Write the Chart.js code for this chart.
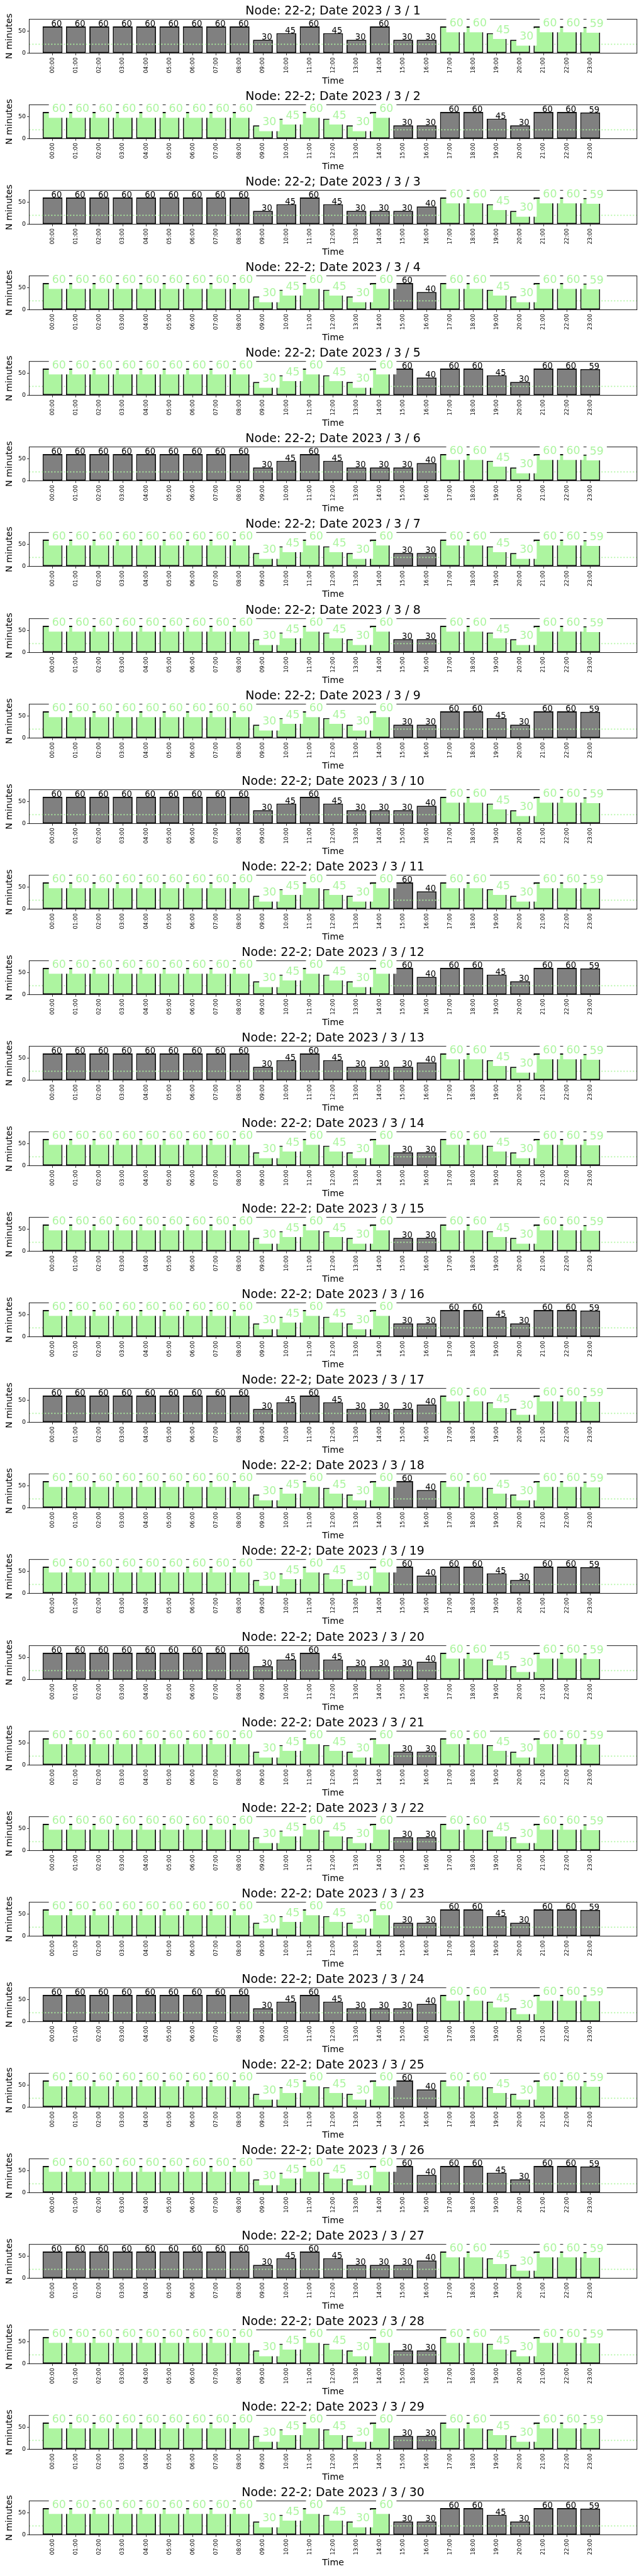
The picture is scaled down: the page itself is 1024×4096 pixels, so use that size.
<!DOCTYPE html>
<html>
<head>
<meta charset="utf-8">
<title>Node 22-2, minutes per hour, March 2023</title>
<script src="https://cdn.jsdelivr.net/npm/chart.js"></script>
<style>
  body { margin: 0; background: #fff; }
  #page { position: relative; width: 1024px; height: 4096px; }
  .panel { position: absolute; left: 0; width: 1024px; height: 137px; }
</style>
</head>
<body>
<div id="page"></div>
<script>
// x axis slots
const hours = ["00:00","01:00","02:00","03:00","04:00","05:00","06:00","07:00",
               "08:00","09:00","10:00","11:00","12:00","13:00","14:00","15:00",
               "16:00","17:00","18:00","19:00","20:00","21:00","22:00","23:00"];
const yTicks = [0, 50];
const yMax = 76;
const threshold = 20;
const node = "22-2";

// minutes per hour, three profiles that repeat through the month
const minutesA = [60,60,60,60,60,60,60,60,60,30,45,60,45,30,60,30,30,60,60,45,30,60,60,59];
const minutesB = [60,60,60,60,60,60,60,60,60,30,45,60,45,30,30,30,40,60,60,45,30,60,60,59];
const minutesC = [60,60,60,60,60,60,60,60,60,30,45,60,45,30,60,60,40,60,60,45,30,60,60,59];

// hours drawn in green (1) instead of grey (0)
const hlEvening = [0,0,0,0,0,0,0,0,0,0,0,0,0,0,0,0,0,1,1,1,1,1,1,1];
const hlDaytime = [1,1,1,1,1,1,1,1,1,1,1,1,1,1,1,0,0,0,0,0,0,0,0,0];
const hlBoth    = [1,1,1,1,1,1,1,1,1,1,1,1,1,1,1,0,0,1,1,1,1,1,1,1];

const dates = [1,2,3,4,5,6,7,8,9,10,11,12,13,14,15,16,17,18,19,20,21,22,23,24,25,26,27,28,29,30];
const dayMinutes = [
  minutesA, minutesA, minutesB, minutesC, minutesC, minutesB, minutesA, minutesA, minutesA, minutesB,
  minutesC, minutesC, minutesB, minutesA, minutesA, minutesA, minutesB, minutesC, minutesC, minutesB,
  minutesA, minutesA, minutesA, minutesB, minutesC, minutesC, minutesB, minutesA, minutesA, minutesA
];
const dayHighlight = [
  hlEvening, hlDaytime, hlEvening, hlBoth, hlDaytime, hlEvening, hlBoth, hlBoth, hlDaytime, hlEvening,
  hlBoth, hlDaytime, hlEvening, hlBoth, hlBoth, hlDaytime, hlEvening, hlBoth, hlDaytime, hlEvening,
  hlBoth, hlBoth, hlDaytime, hlEvening, hlBoth, hlDaytime, hlEvening, hlBoth, hlBoth, hlDaytime
];

const FONT = "DejaVu Sans";
const GRAY = "#808080";
const GREEN = "#adf5a0";
const EDGE = "#111111";
const PANEL_STEP = 136.08;

Chart.defaults.font.family = FONT;
Chart.defaults.color = "#000";

// box round the axes and the dotted threshold line (over grey bars, under green ones)
const frame = {
  id: "frame",
  afterDatasetDraw(chart, args) {
    if (chart.data.datasets[args.index].label !== "normal") return;
    const ctx = chart.ctx, a = chart.chartArea;
    const y = chart.scales.y.getPixelForValue(threshold);
    ctx.save();
    ctx.strokeStyle = GREEN;
    ctx.lineWidth = 1.9;
    ctx.setLineDash([1.9, 3.1]);
    ctx.beginPath();
    ctx.moveTo(a.left, y);
    ctx.lineTo(a.right, y);
    ctx.stroke();
    ctx.restore();
  },
  afterDatasetsDraw(chart) {
    const ctx = chart.ctx, a = chart.chartArea;
    ctx.save();
    ctx.strokeStyle = "#000";
    ctx.lineWidth = 0.9;
    ctx.strokeRect(a.left, a.top, a.right - a.left, a.bottom - a.top);
    ctx.restore();
  }
};

// value labels: black for grey bars, green on a white box for green bars
const barLabels = {
  id: "barLabels",
  afterDatasetsDraw(chart) {
    const ctx = chart.ctx;
    ctx.save();
    ctx.textBaseline = "alphabetic";
    ctx.textAlign = "left";
    ["normal", "marked"].forEach(name => {
      const di = chart.data.datasets.findIndex(d => d.label === name);
      const ds = chart.data.datasets[di];
      chart.getDatasetMeta(di).data.forEach((bar, j) => {
        const txt = String(ds.data[j].y);
        if (name === "normal") {
          ctx.font = "13.2px '" + FONT + "'";
          ctx.fillStyle = "#000";
          ctx.fillText(txt, bar.x - 2, bar.y);
        } else {
          const fs = 17.4, pad = 5.1;
          const x0 = bar.x - 0.8;
          ctx.font = fs + "px '" + FONT + "'";
          const w = ctx.measureText(txt).width;
          ctx.fillStyle = "#fff";
          ctx.fillRect(x0 - pad, bar.y - 0.76 * fs - pad, w + 2 * pad, fs + 2 * pad);
          ctx.fillStyle = GREEN;
          ctx.fillText(txt, x0, bar.y);
        }
      });
    });
    ctx.restore();
  }
};

const page = document.getElementById("page");

dates.forEach((d, i) => {
  const box = document.createElement("div");
  box.className = "panel";
  box.style.top = Math.round(i * PANEL_STEP) + "px";
  const cv = document.createElement("canvas");
  box.appendChild(cv);
  page.appendChild(box);

  const vals = dayMinutes[i], hl = dayHighlight[i];
  const normal = [], marked = [];
  vals.forEach((v, h) => (hl[h] ? marked : normal).push({ x: h, y: v }));

  const barStyle = {
    borderColor: EDGE, borderWidth: 1.9, borderSkipped: false,
    barPercentage: 0.85, categoryPercentage: 1, grouped: false
  };

  new Chart(cv, {
    type: "bar",
    data: {
      datasets: [
        Object.assign({ label: "marked", data: marked, backgroundColor: GREEN, order: 1 }, barStyle),
        Object.assign({ label: "normal", data: normal, backgroundColor: GRAY, order: 2 }, barStyle)
      ]
    },
    options: {
      animation: false,
      responsive: true,
      maintainAspectRatio: false,
      devicePixelRatio: 1,
      layout: { padding: { left: 0, right: 11.2, top: 0, bottom: 0 } },
      plugins: {
        legend: { display: false },
        tooltip: { enabled: false },
        title: {
          display: true,
          fullSize: false,
          text: "Node: " + node + "; Date 2023 / 3 / " + d,
          color: "#000",
          font: { family: FONT, size: 19, weight: "normal", lineHeight: 1.2 },
          padding: { top: 7.0, bottom: 0.9 }
        }
      },
      scales: {
        x: {
          type: "linear",
          min: -1, max: 25,
          bounds: "data",
          offset: false,
          afterBuildTicks: s => { s.ticks = hours.map((h, k) => ({ value: k })); },
          afterFit: s => { s.height = 52.4; },
          ticks: {
            autoSkip: false, minRotation: 90, maxRotation: 90, padding: 3.3,
            color: "#000", font: { size: 8.8 },
            callback: v => hours[v]
          },
          grid: { display: true, offset: false, drawOnChartArea: false, drawTicks: true,
                  tickLength: 3.3, color: "#000", lineWidth: 0.8 },
          border: { display: false },
          title: { display: true, text: "Time", color: "#000",
                   font: { size: 14.2, lineHeight: 1.05 }, padding: 0 }
        },
        y: {
          min: 0, max: yMax,
          bounds: "data",
          afterBuildTicks: s => { s.ticks = yTicks.map(v => ({ value: v })); },
          afterFit: s => { s.width = 46.4; },
          ticks: { padding: 2.1, color: "#000", font: { size: 9.5 } },
          grid: { display: true, drawOnChartArea: false, drawTicks: true,
                  tickLength: 3.3, color: "#000", lineWidth: 0.8 },
          border: { display: false },
          title: { display: true, text: "N minutes", color: "#000",
                   font: { size: 14.2, lineHeight: 1.2 }, padding: { top: 7.2, bottom: 0 } }
        }
      }
    },
    plugins: [frame, barLabels]
  });
});
</script>
</body>
</html>
